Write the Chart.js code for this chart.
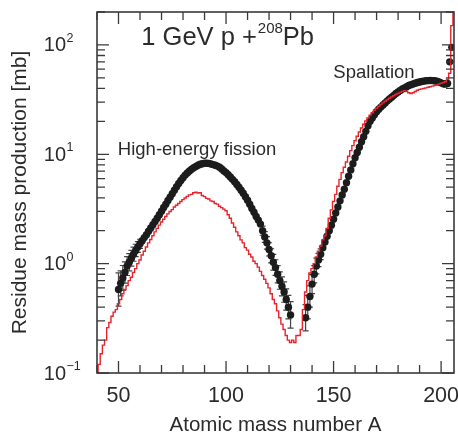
<!DOCTYPE html>
<html>
<head>
<meta charset="utf-8">
<script src="https://cdn.jsdelivr.net/npm/chart.js@4.4.1/dist/chart.umd.min.js"></script>
<style>
  html, body { margin: 0; padding: 0; background: #fff; }
  #wrap { width: 458px; height: 433px; }
</style>
</head>
<body>
<div id="wrap"><canvas id="massChart" width="458" height="433"></canvas></div>
<script>
const FONT = "'Liberation Sans', Arial, Helvetica, sans-serif";
const TEXT = '#2b2b2b';

// experiment (black dots), fission side, A = 50 .. 130
const fissStartA = 50;
const fissVals = [
  0.58, 0.66, 0.74, 0.83, 0.95, 1.03, 1.12, 1.22, 1.32, 1.42,
  1.52, 1.62, 1.73, 1.84, 1.98, 2.12, 2.27, 2.43, 2.6, 2.8,
  3.02, 3.26, 3.5, 3.78, 4.05, 4.35, 4.7, 5.05, 5.4, 5.75,
  6.1, 6.45, 6.75, 7.05, 7.3, 7.55, 7.75, 7.95, 8.1, 8.2,
  8.3, 8.3, 8.25, 8.15, 8.05, 7.95, 7.8, 7.6, 7.35, 7.05,
  6.8, 6.5, 6.2, 5.9, 5.6, 5.3, 5.0, 4.7, 4.4, 4.1,
  3.8, 3.5, 3.2, 2.95, 2.7, 2.5, 2.3, 2.0, 1.75, 1.55,
  1.35, 1.18, 1.03, 0.92, 0.8, 0.7, 0.62, 0.55, 0.47, 0.4,
  0.34
];
// experiment, spallation side, A = 137 .. 205
const spallStartA = 137;
const spallVals = [
  0.32, 0.4, 0.5, 0.65, 0.8, 0.95, 1.08, 1.22, 1.4, 1.58,
  1.78, 2.0, 2.25, 2.55, 2.9, 3.3, 3.75, 4.25, 4.8, 5.5,
  6.3, 7.2, 8.2, 9.3, 10.4, 11.6, 13.0, 14.5, 16.2, 18.2,
  20.0, 21.5, 23.0, 24.5, 25.8, 27.0, 28.2, 29.5, 30.8, 32.0,
  33.3, 34.6, 36.0, 37.2, 38.4, 39.5, 40.5, 41.5, 42.5, 43.3,
  44.0, 44.7, 45.3, 45.8, 46.3, 46.7, 47.0, 47.2, 47.3, 47.2,
  47.0, 46.5, 45.8, 45.0, 44.2, 43.8, 44.5, 70, 95
];
// visible error bars (relative size)
const errA = [50, 51, 52, 53, 54, 55, 56, 57, 58, 59, 60,
  117, 118, 119, 120, 121, 122, 123, 124, 125, 126, 127, 128, 129, 130,
  137, 138, 139, 140, 141, 142, 143, 144];
const errF = [0.42, 0.3, 0.3, 0.25, 0.22, 0.2, 0.18, 0.16, 0.14, 0.12, 0.1,
  0.1, 0.12, 0.14, 0.15, 0.16, 0.18, 0.18, 0.2, 0.2, 0.22, 0.24, 0.25, 0.28, 0.32,
  0.32, 0.28, 0.25, 0.22, 0.2, 0.18, 0.15, 0.12];

// calculation (red histogram), A = 40 .. 206
const calcStartA = 40;
const calcVals = [
  0.1, 0.12, 0.15, 0.18, 0.2, 0.26, 0.29, 0.33, 0.36, 0.38,
  0.43, 0.47, 0.53, 0.58, 0.63, 0.7, 0.75, 0.83, 0.9, 1.0,
  1.08, 1.2, 1.3, 1.42, 1.55, 1.66, 1.8, 1.95, 2.1, 2.25,
  2.4, 2.55, 2.7, 2.85, 3.0, 3.12, 3.3, 3.42, 3.55, 3.7,
  3.85, 3.98, 4.12, 4.25, 4.3, 4.45, 4.5, 4.42, 4.45, 4.2,
  4.1, 3.95, 3.9, 3.75, 3.7, 3.55, 3.5, 3.35, 3.25, 3.15,
  3.05, 2.8, 2.6, 2.35, 2.15, 1.95, 1.8, 1.65, 1.55, 1.4,
  1.33, 1.22, 1.15, 1.05, 1.0, 0.93, 0.85, 0.78, 0.72, 0.66,
  0.6, 0.53, 0.47, 0.43, 0.37, 0.32, 0.28, 0.25, 0.22, 0.2,
  0.19, 0.2, 0.19, 0.22, 0.22, 0.25, 0.38, 0.55, 0.7, 0.82,
  0.9, 1.0, 1.15, 1.3, 1.45, 1.65, 1.8, 2.1, 2.6, 3.1,
  3.7, 4.3, 5.1, 5.9, 6.8, 7.6, 8.5, 9.6, 10.8, 12.0,
  13.3, 14.6, 16.0, 17.4, 18.8, 20.2, 21.5, 22.8, 24.0, 25.2,
  26.3, 27.4, 28.5, 29.5, 30.5, 31.5, 32.5, 33.4, 34.3, 35.2,
  36.0, 36.8, 37.6, 38.2, 37.5, 36.5, 36.0, 36.5, 37.5, 38.5,
  39.2, 39.6, 40.0, 40.5, 41.0, 41.5, 42.0, 42.5, 43.0, 43.8,
  44.5, 45.2, 46.0, 48.5, 55, 150, 300
];

const xTickVals = [50, 100, 150, 200];
const yDecades = [0.1, 1, 10, 100];
const yDecadeExp = ['\u22121', '0', '1', '2'];

const expPoints = fissVals.map((v, i) => ({ x: fissStartA + i, y: v }))
  .concat(spallVals.map((v, i) => ({ x: spallStartA + i, y: v })));
const calcPoints = calcVals.map((v, i) => ({ x: calcStartA + i, y: v }));

function expAt(A) {
  if (A >= spallStartA) return spallVals[A - spallStartA];
  return fissVals[A - fissStartA];
}

const framePlugin = {
  id: 'frame',
  beforeDatasetsDraw(chart) {
    const { ctx, scales: { x, y } } = chart;
    ctx.save();
    ctx.strokeStyle = '#444';
    ctx.lineWidth = 1.2;
    errA.forEach((A, i) => {
      const v = expAt(A);
      const px = x.getPixelForValue(A);
      const top = y.getPixelForValue(v * (1 + errF[i]));
      const bot = y.getPixelForValue(v / (1 + errF[i]));
      ctx.beginPath();
      ctx.moveTo(px, top); ctx.lineTo(px, bot);
      ctx.moveTo(px - 3, top); ctx.lineTo(px + 3, top);
      ctx.moveTo(px - 3, bot); ctx.lineTo(px + 3, bot);
      ctx.stroke();
    });
    ctx.restore();
  },
  afterDraw(chart) {
    const { ctx, chartArea: a, scales: { x, y } } = chart;
    ctx.save();
    ctx.strokeStyle = '#3a3a3a';
    ctx.lineWidth = 1.6;
    ctx.strokeRect(a.left, a.top, a.right - a.left, a.bottom - a.top);

    ctx.lineWidth = 1.3;
    ctx.beginPath();
    // x ticks, bottom and top
    for (let A = 40; A <= 200; A += 10) {
      const px = x.getPixelForValue(A);
      const len = A % 50 === 0 ? 12 : 8;
      ctx.moveTo(px, a.bottom); ctx.lineTo(px, a.bottom - len);
      ctx.moveTo(px, a.top); ctx.lineTo(px, a.top + len);
    }
    // y ticks, left and right
    yDecades.forEach(d => {
      for (let m = 1; m <= 9; m++) {
        const v = d * m;
        if (v > y.max) break;
        const py = y.getPixelForValue(v);
        const len = m === 1 ? 12 : 8;
        ctx.moveTo(a.left, py); ctx.lineTo(a.left + len, py);
        ctx.moveTo(a.right, py); ctx.lineTo(a.right - len, py);
      }
    });
    ctx.stroke();

    // y decade labels with exponents
    ctx.fillStyle = TEXT;
    yDecades.forEach((d, i) => {
      const py = y.getPixelForValue(d);
      ctx.font = `20px ${FONT}`;
      ctx.textAlign = 'right';
      ctx.textBaseline = 'middle';
      ctx.fillText('10', 66, py + 1);
      ctx.font = `12.5px ${FONT}`;
      ctx.textAlign = 'left';
      ctx.fillText(yDecadeExp[i], 66.5, py - 6.5);
    });

    // annotations
    ctx.textBaseline = 'alphabetic';
    ctx.textAlign = 'left';
    let tx = x.getPixelForValue(60.6);
    const ty = y.getPixelForValue(100);
    ctx.font = `25.5px ${FONT}`;
    const s1 = '1 GeV p +';
    ctx.fillText(s1, tx, ty);
    tx += ctx.measureText(s1).width + 1;
    ctx.font = `15px ${FONT}`;
    ctx.fillText('208', tx, ty - 12);
    tx += ctx.measureText('208').width;
    ctx.font = `25.5px ${FONT}`;
    ctx.fillText('Pb', tx, ty);

    ctx.font = `18.5px ${FONT}`;
    ctx.fillText('Spallation', x.getPixelForValue(149.9), y.getPixelForValue(49.8));
    ctx.fillText('High-energy fission', x.getPixelForValue(49.7), y.getPixelForValue(9.8));
    ctx.restore();
  }
};

const massChart = new Chart(document.getElementById('massChart'), {
  data: {
    datasets: [{
      type: 'scatter',
      label: 'Experiment',
      data: expPoints,
      pointRadius: 3.7,
      pointBackgroundColor: '#1c1c1c',
      pointBorderWidth: 0,
      order: 1
    }, {
      type: 'line',
      label: 'Calculation',
      data: calcPoints,
      stepped: 'middle',
      borderColor: '#e8232b',
      borderWidth: 1.4,
      pointRadius: 0,
      fill: false,
      order: 0
    }]
  },
  options: {
    responsive: false,
    animation: false,
    layout: { padding: { top: 12, right: 1.5, left: 0, bottom: 0 } },
    plugins: {
      legend: { display: false },
      tooltip: { enabled: false }
    },
    scales: {
      x: {
        type: 'linear',
        min: 40,
        max: 206,
        afterBuildTicks: s => { s.ticks = xTickVals.map(v => ({ value: v })); },
        afterFit: s => { s.height = 60; s.paddingLeft = 0; s.paddingRight = 0; },
        grid: { display: false, drawTicks: false },
        border: { display: false },
        ticks: {
          color: TEXT,
          font: { family: FONT, size: 21.5 },
          padding: 10,
          maxRotation: 0
        },
        title: {
          display: true,
          text: 'Atomic mass number A',
          color: TEXT,
          font: { family: FONT, size: 20.5, lineHeight: 0.75 },
          padding: { top: 0, bottom: 0 }
        }
      },
      y: {
        type: 'logarithmic',
        min: 0.1,
        max: 200,
        afterFit: s => { s.width = 97; s.paddingTop = 0; s.paddingBottom = 0; },
        grid: { display: false, drawTicks: false },
        border: { display: false },
        ticks: { display: false },
        title: {
          display: true,
          text: 'Residue mass production [mb]',
          color: TEXT,
          font: { family: FONT, size: 21 },
          padding: { top: 8, bottom: 0 }
        }
      }
    }
  },
  plugins: [framePlugin]
});
</script>
</body>
</html>
